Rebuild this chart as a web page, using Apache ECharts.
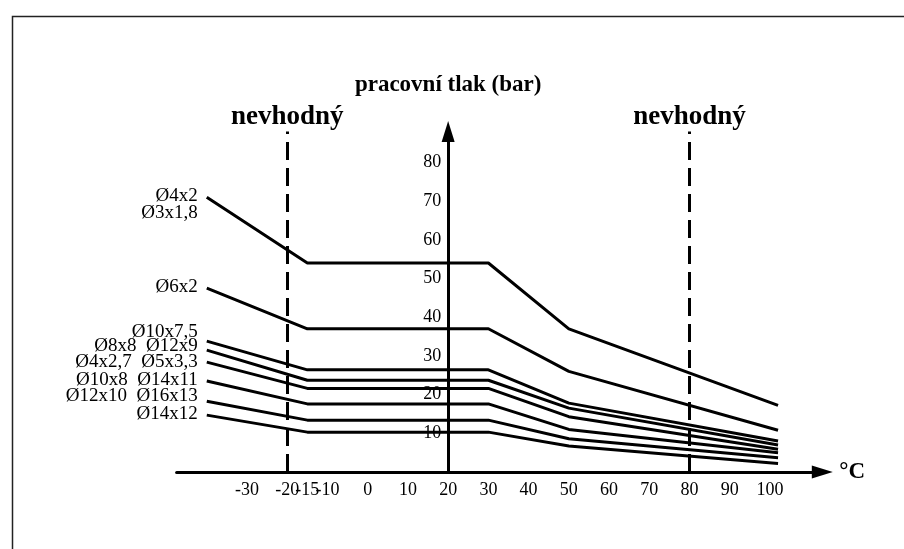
<!DOCTYPE html>
<html>
<head>
<meta charset="utf-8">
<script src="https://cdn.jsdelivr.net/npm/echarts@6/dist/echarts.min.js"></script>
<style>html,body{margin:0;padding:0;background:#fff}#c{width:904px;height:549px}</style>
</head>
<body>
<div id="c"></div>
<script>
// ---- data ----
var xPoints = [-40, -15, 30, 50, 102];
var seriesLabels = ['Ø4x2\nØ3x1,8', 'Ø6x2', 'Ø10x7,5', 'Ø8x8  Ø12x9', 'Ø4x2,7  Ø5x3,3', 'Ø10x8  Ø14x11', 'Ø12x10  Ø16x13', 'Ø14x12'];
var p1 = [71, 54, 54, 37, 17.2];
var p2 = [47.5, 37, 37, 26, 10.8];
var p3 = [33.8, 26.4, 26.4, 17.8, 8.0];
var p4 = [31.5, 23.7, 23.7, 16.5, 7.0];
var p5 = [28.4, 21.6, 21.6, 14.3, 5.9];
var p6 = [23.5, 17.6, 17.6, 11.0, 5.0];
var p7 = [18.3, 13.4, 13.4, 8.6, 3.7];
var p8 = [14.7, 10.3, 10.3, 6.7, 2.2];
var xTickLabels = [-30, -20, -15, -10, 0, 10, 20, 30, 40, 50, 60, 70, 80, 90, 100];
var unsuitableX = [-20, 80];
var yAxisAtX = 20;

// ---- layout / style ----
var FONT = 'Liberation Serif';
var labelOffsets = [7.5, -1, -9, -4, 0, -1, -5, -1];
var xMin = -47.5, xMax = 113, yMin = 0, yMax = 88;
var gridLeft = 176.6, gridWidth = 645.7, gridTop = 131.4, gridHeight = 340.6;

var allSeries = [p1, p2, p3, p4, p5, p6, p7, p8];
var series = allSeries.map(function (vals, i) {
  var data = vals.map(function (v, k) {
    var item = { value: [xPoints[k], v] };
    if (k === 0) {
      item.label = {
        show: true, position: 'left', distance: 9,
        formatter: seriesLabels[i], offset: [0, labelOffsets[i]],
        fontFamily: FONT, fontSize: 19, color: '#000', lineHeight: 17, align: 'right'
      };
    }
    return item;
  });
  var s = {
    type: 'line', name: seriesLabels[i], data: data,
    showSymbol: true, symbol: 'circle', symbolSize: 0,
    lineStyle: { color: '#000', width: 3 }, itemStyle: { color: '#000' },
    silent: true, animation: false, z: 3
  };
  if (i === 0) {
    s.markLine = {
      silent: true, symbol: 'none', animation: false,
      lineStyle: { color: '#000', width: 3, type: [18, 8] },
      label: { show: true, position: 'end', formatter: 'nevhodný', fontFamily: FONT, fontSize: 27, fontWeight: 'bold', color: '#000', distance: 1 },
      data: unsuitableX.map(function (x) { return { xAxis: x }; })
    };
  }
  return s;
});

var chart = echarts.init(document.getElementById('c'), null, { renderer: 'canvas' });
chart.setOption({
  backgroundColor: '#fff',
  animation: false,
  graphic: [{
    type: 'rect', left: 10, top: 14, shape: { width: 1000, height: 1000 },
    style: { fill: 'none', stroke: '#222', lineWidth: 1.5 }, silent: true
  }],
  grid: { left: gridLeft, top: gridTop, width: gridWidth, height: gridHeight },
  xAxis: {
    type: 'value', min: xMin, max: xMax,
    name: '°C', nameLocation: 'end', nameGap: 17,
    nameTextStyle: { fontFamily: FONT, fontSize: 23, fontWeight: 'bold', color: '#000' },
    axisLine: { show: true, onZero: false, symbol: ['none', 'triangle'], symbolSize: [13, 21], lineStyle: { color: '#000', width: 3 } },
    axisTick: { show: false },
    splitLine: { show: false },
    axisLabel: { customValues: xTickLabels, margin: 9, fontFamily: FONT, fontSize: 18, color: '#000' }
  },
  yAxis: {
    type: 'value', min: yMin, max: yMax, interval: 10,
    offset: -(yAxisAtX - xMin) / (xMax - xMin) * gridWidth,
    name: 'pracovní tlak (bar)', nameLocation: 'end', nameGap: 35,
    nameTextStyle: { fontFamily: FONT, fontSize: 23, fontWeight: 'bold', color: '#000', align: 'center' },
    axisLine: { show: true, symbol: ['none', 'triangle'], symbolSize: [13, 21], lineStyle: { color: '#000', width: 3 } },
    axisTick: { show: false },
    splitLine: { show: false },
    axisLabel: { margin: 7, showMaxLabel: false, fontFamily: FONT, fontSize: 18, color: '#000', formatter: function (v) { return (v === 0 || v > 80) ? '' : String(v); } }
  },
  series: series
});
</script>
</body>
</html>
